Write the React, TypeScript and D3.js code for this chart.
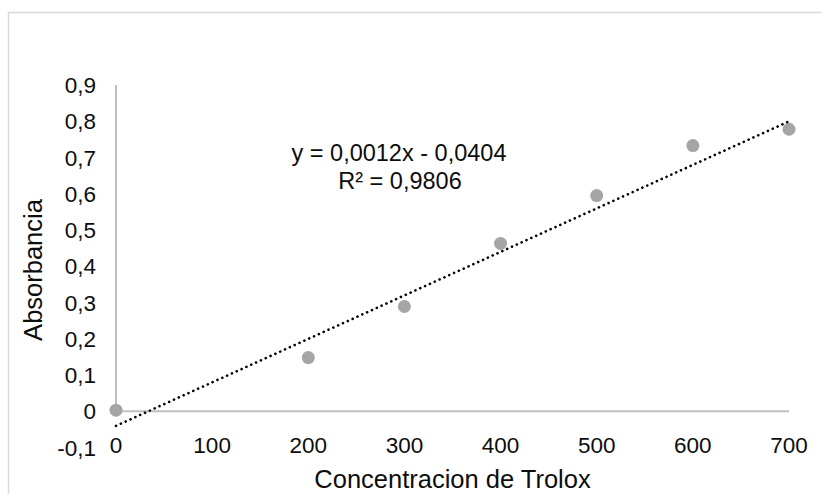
import * as d3 from "d3";
import { useEffect, useRef } from "react";

// datos
const concentraciones = [0, 200, 300, 400, 500, 600, 700];
const absorbancias = [0.003, 0.148, 0.289, 0.463, 0.595, 0.733, 0.778];
const xTicks = [0, 100, 200, 300, 400, 500, 600, 700];
const yTicks = [-0.1, 0, 0.1, 0.2, 0.3, 0.4, 0.5, 0.6, 0.7, 0.8, 0.9];
const pendiente = 0.0012;
const intercepto = -0.0404;
const ecuacion = "y = 0,0012x - 0,0404";
const r2 = "R² = 0,9806";

const W = 822;
const H = 494;
const FONT = "'Liberation Sans', Arial, sans-serif";
const TXT = "#0d0d0d";

const App = () => {
  const ref = useRef<SVGSVGElement>(null);

  useEffect(() => {
    const svg = d3.select(ref.current);
    svg.selectAll("*").remove();

    const x = d3.scaleLinear().domain([0, 700]).range([116, 789]);
    const y = d3.scaleLinear().domain([-0.1, 0.9]).range([447.5, 85]);
    // formato general de Excel con coma decimal
    const fmt = (v: number) =>
      Math.abs(v) < 1e-9 ? "0" : d3.format(".1f")(v).replace(".", ",").replace("−", "-");

    // marco exterior
    svg.append("rect")
      .attr("x", 8.5).attr("y", 12.5)
      .attr("width", W + 20).attr("height", H + 20)
      .attr("fill", "#fff")
      .attr("stroke", "#d9d9d9")
      .attr("stroke-width", 1.5);

    // ejes
    svg.append("line")
      .attr("x1", x(0)).attr("x2", x(700))
      .attr("y1", y(0)).attr("y2", y(0))
      .attr("stroke", "#bfbfbf").attr("stroke-width", 2);
    svg.append("line")
      .attr("x1", x(0)).attr("x2", x(0))
      .attr("y1", y(0)).attr("y2", y(0.9))
      .attr("stroke", "#bfbfbf").attr("stroke-width", 2);

    svg.append("g")
      .selectAll("text")
      .data(yTicks)
      .enter()
      .append("text")
      .attr("x", 96)
      .attr("y", d => y(d))
      .attr("dy", "0.36em")
      .attr("text-anchor", "end")
      .attr("font-family", FONT)
      .attr("font-size", 22.5)
      .attr("fill", TXT)
      .text(d => fmt(d));

    svg.append("g")
      .selectAll("text")
      .data(xTicks)
      .enter()
      .append("text")
      .attr("x", d => x(d))
      .attr("y", 453)
      .attr("text-anchor", "middle")
      .attr("font-family", FONT)
      .attr("font-size", 22.5)
      .attr("fill", TXT)
      .text(d => String(d));

    // puntos
    svg.append("g")
      .selectAll("circle")
      .data(concentraciones)
      .enter()
      .append("circle")
      .attr("cx", d => x(d))
      .attr("cy", (d, i) => y(absorbancias[i]))
      .attr("r", 6.5)
      .attr("fill", "#a5a5a5");

    // linea de tendencia
    const trend = d3.line<number>()
      .x(d => x(d))
      .y(d => y(pendiente * d + intercepto));
    svg.append("path")
      .attr("d", trend([0, 700]))
      .attr("fill", "none")
      .attr("stroke", "#000")
      .attr("stroke-width", 2.6)
      .attr("stroke-linecap", "round")
      .attr("stroke-dasharray", "0.1 5.2");

    // ecuacion
    svg.append("text")
      .attr("x", 399).attr("y", 161)
      .attr("text-anchor", "middle")
      .attr("font-family", FONT)
      .attr("font-size", 23.5)
      .attr("fill", TXT)
      .text(ecuacion);
    svg.append("text")
      .attr("x", 400).attr("y", 189)
      .attr("text-anchor", "middle")
      .attr("font-family", FONT)
      .attr("font-size", 23.5)
      .attr("fill", TXT)
      .text(r2);

    // titulos
    svg.append("text")
      .attr("x", 452.5).attr("y", 488)
      .attr("text-anchor", "middle")
      .attr("font-family", FONT)
      .attr("font-size", 25.5)
      .attr("fill", TXT)
      .text("Concentracion de Trolox");
    svg.append("text")
      .attr("transform", "translate(42,270) rotate(-90)")
      .attr("text-anchor", "middle")
      .attr("font-family", FONT)
      .attr("font-size", 25.5)
      .attr("fill", TXT)
      .text("Absorbancia");
  }, []);

  return (
    <svg
      ref={ref}
      width={W}
      height={H}
      style={{ position: "absolute", left: 0, top: 0, display: "block", background: "#fff" }}
    ></svg>
  );
};

export default App;
